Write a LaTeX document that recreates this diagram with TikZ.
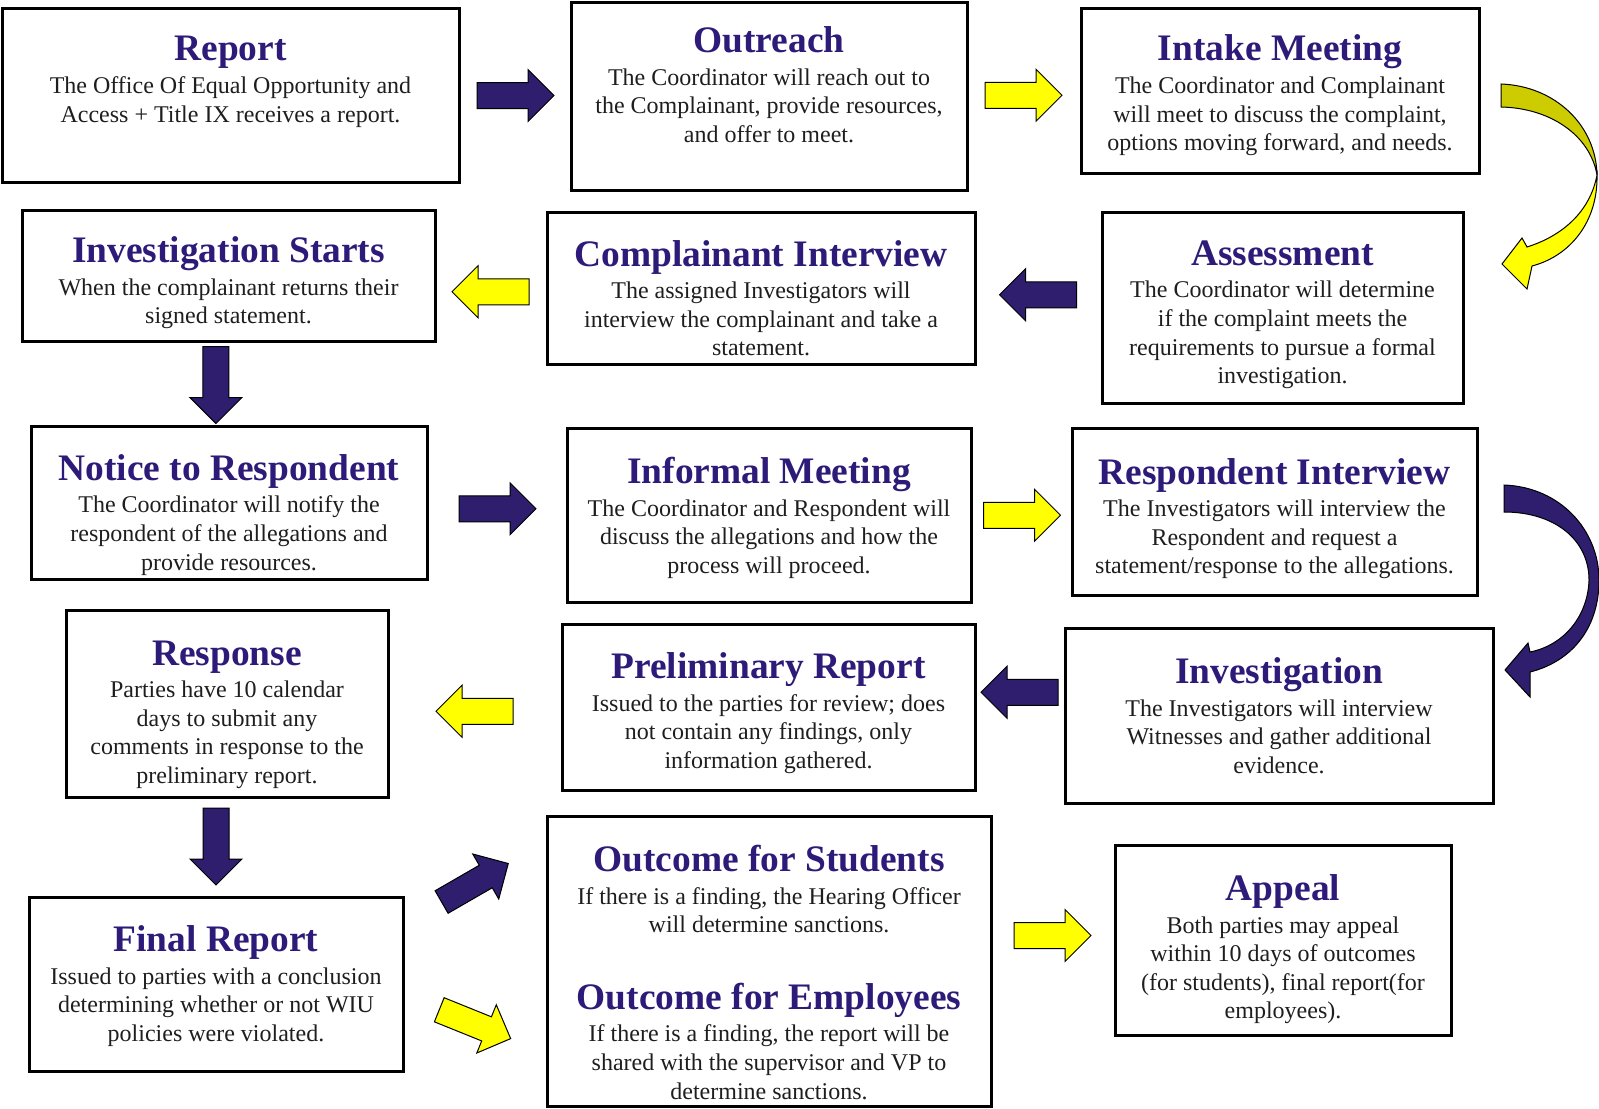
\documentclass[tikz,border=0pt]{standalone}
\usepackage{fontspec}
\setmainfont{Liberation Serif}
\usetikzlibrary{shapes.arrows,calc}
\definecolor{wiupurple}{HTML}{2E1A78}
\definecolor{arrowpurple}{HTML}{2F1D6E}
\definecolor{arrowyellow}{HTML}{FFFF00}
\definecolor{darkyellow}{HTML}{CCCC00}
\definecolor{bodytext}{HTML}{1E1E1E}
\newcommand{\steptitle}[1]{{\fontsize{18.7}{20}\selectfont\bfseries\color{wiupurple}#1}}

\begin{document}
\begin{tikzpicture}[
x=0.5pt, y=-0.5pt,
stepframe/.style = {draw, line width=1.5pt, inner sep=0pt},
steptext/.style = {align=center, inner sep=0pt, text=bodytext,
  font=\fontsize{12}{14.3}\selectfont},
boxsize/.style 2 args = {minimum width=#1pt, minimum height=#2pt},
blockarrow/.style = {single arrow, draw=black, line width=0.5pt, minimum height=38.5pt,
  minimum width=25.5pt, single arrow head extend=6.5pt, inner xsep=0pt, inner ysep=6.25pt},
purplearrow/.style = {blockarrow, fill=arrowpurple},
yellowarrow/.style = {blockarrow, fill=arrowyellow},
]
\useasboundingbox (0,0) rectangle (1599,1108);

% frames
\node[stepframe, boxsize={228.5}{87}] (report) at (230.5,95) {};
\node[stepframe, boxsize={198}{94}] (outreach) at (769,96) {};
\node[stepframe, boxsize={199}{82.5}] (intake) at (1280,90.5) {};
\node[stepframe, boxsize={206.5}{65.5}] (invstart) at (228.5,275.5) {};
\node[stepframe, boxsize={214}{76}] (complint) at (761,288) {};
\node[stepframe, boxsize={180.5}{95.5}] (assess) at (1282.5,307.5) {};
\node[stepframe, boxsize={198}{76.5}] (notice) at (229,502.5) {};
\node[stepframe, boxsize={202}{87}] (informal) at (769,515) {};
\node[stepframe, boxsize={202.5}{83.5}] (respint) at (1274.5,511.5) {};
\node[stepframe, boxsize={161}{93.5}] (response) at (227,703.5) {};
\node[stepframe, boxsize={206.5}{83}] (prelim) at (768.5,707) {};
\node[stepframe, boxsize={214}{87.5}] (investig) at (1279,715.5) {};
\node[stepframe, boxsize={187}{87}] (final) at (216,984) {};
\node[stepframe, boxsize={222}{145}] (outcome) at (769,961) {};
\node[stepframe, boxsize={168}{95}] (appeal) at (1283,940) {};

% texts
\node[steptext] (reporttxt) at ([yshift=6.6pt]report.center)
  {\steptitle{Report}\\[2pt]
   The Office Of Equal Opportunity and\\
   Access + Title IX receives a report.};
\node[steptext] (outreachtxt) at ([yshift=5.6pt]outreach.center)
  {\steptitle{Outreach}\\[2pt]
   The Coordinator will reach out to\\
   the Complainant, provide resources,\\
   and offer to meet.};
\node[steptext] (intaketxt) at ([yshift=-2.5pt]intake.center)
  {\steptitle{Intake Meeting}\\[2pt]
   The Coordinator and Complainant\\
   will meet to discuss the complaint,\\
   options moving forward, and needs.};
\node[steptext] (invstarttxt) at ([yshift=-3.6pt]invstart.center)
  {\steptitle{Investigation Starts}\\[2pt]
   When the complainant returns their\\
   signed statement.};
\node[steptext] (complinttxt) at ([yshift=-5.1pt]complint.center)
  {\steptitle{Complainant Interview}\\[2pt]
   The assigned Investigators will\\
   interview the complainant and take a\\
   statement.};
\node[steptext] (assesstxt) at ([yshift=-3.6pt]assess.center)
  {\steptitle{Assessment}\\[2pt]
   The Coordinator will determine\\
   if the complaint meets the\\
   requirements to pursue a formal\\
   investigation.};
\node[steptext] (noticetxt) at ([yshift=-6.1pt]notice.center)
  {\steptitle{Notice to Respondent}\\[2pt]
   The Coordinator will notify the\\
   respondent of the allegations and\\
   provide resources.};
\node[steptext] (informaltxt) at ([yshift=-1.5pt]informal.center)
  {\steptitle{Informal Meeting}\\[2pt]
   The Coordinator and Respondent will\\
   discuss the allegations and how the\\
   process will proceed.};
\node[steptext] (respinttxt) at ([yshift=-3.6pt]respint.center)
  {\steptitle{Respondent Interview}\\[2pt]
   The Investigators will interview the\\
   Respondent and request a\\
   statement/response to the allegations.};
\node[steptext] (responsetxt) at ([yshift=-5.6pt]response.center)
  {\steptitle{Response}\\[2pt]
   Parties have 10 calendar\\
   days to submit any\\
   comments in response to the\\
   preliminary report.};
\node[steptext] (prelimtxt) at ([yshift=-3.1pt]prelim.center)
  {\steptitle{Preliminary Report}\\[2pt]
   Issued to the parties for review; does\\
   not contain any findings, only\\
   information gathered.};
\node[steptext] (investigtxt) at (investig.center)
  {\steptitle{Investigation}\\[2pt]
   The Investigators will interview\\
   Witnesses and gather additional\\
   evidence.};
\node[steptext] (finaltxt) at ([yshift=-1pt]final.center)
  {\steptitle{Final Report}\\[2pt]
   Issued to parties with a conclusion\\
   determining whether or not WIU\\
   policies were violated.};
\node[steptext] (outcometxt) at ([yshift=-5.6pt]outcome.center)
  {\steptitle{Outcome for Students}\\[2pt]
   If there is a finding, the Hearing Officer\\
   will determine sanctions.\\[24pt]
   \steptitle{Outcome for Employees}\\[2pt]
   If there is a finding, the report will be\\
   shared with the supervisor and VP to\\
   determine sanctions.};
\node[steptext] (appealtxt) at ([yshift=-4.6pt]appeal.center)
  {\steptitle{Appeal}\\[2pt]
   Both parties may appeal\\
   within 10 days of outcomes\\
   (for students), final report(for\\
   employees).};

% block arrows (shifts are in the arrow's own frame)
\node[purplearrow, xshift=-3pt] (arr1) at ($(report.east)!.5!(outreach.west)$) {};
\node[yellowarrow, xshift=-3.5pt, yshift=-1pt] (arr2) at ($(outreach.east)!.5!(intake.west)$) {};
\node[purplearrow, rotate=180, xshift=-3pt, yshift=-1.5pt] (arr4) at ($(complint.east)!.5!(assess.west)$) {};
\node[yellowarrow, rotate=180, xshift=-3pt, yshift=5pt] (arr5) at ($(invstart.east)!.5!(complint.west)$) {};
\node[purplearrow, rotate=-90, xshift=-2.5pt, yshift=-6.4pt] (arr6) at ($(invstart.south)!.5!(notice.north)$) {};
\node[purplearrow, xshift=-3pt] (arr7) at ($(notice.east)!.5!(informal.west)$) {};
\node[yellowarrow, xshift=-3pt, yshift=-1pt] (arr8) at ($(informal.east)!.5!(respint.west)$) {};
\node[purplearrow, rotate=180, xshift=-3pt, yshift=-9.5pt] (arr10) at ($(prelim.east)!.5!(investig.west)$) {};
\node[yellowarrow, rotate=180, xshift=-3pt, yshift=3pt] (arr11) at ($(response.east)!.5!(prelim.west)$) {};
\node[purplearrow, rotate=-90, xshift=-3.5pt, yshift=-2.75pt] (arr12) at ($(response.south)!.5!(final.north)$) {};
\node[purplearrow, rotate=30, xshift=-3pt] (arr13) at (474.5,883) {};
\node[yellowarrow, rotate=-22, xshift=-3pt] (arr14) at (474.5,1024) {};
\node[yellowarrow, xshift=-3.5pt, yshift=7.5pt] (arr15) at ($(outcome.east)!.5!(appeal.west)$) {};

% curved arrows on the right
\filldraw[fill=darkyellow, draw=black, line width=0.5pt]
  (1501,84) .. controls (1555,86) and (1596,125) .. (1597,175)
  .. controls (1590,135) and (1550,108) .. (1501,107) -- cycle;
\filldraw[fill=arrowyellow, draw=black, line width=0.5pt]
  (1597,175) .. controls (1598,222) and (1570,256) .. (1532,266)
  -- (1527,289) -- (1502,264) -- (1522,238) -- (1527,247)
  .. controls (1562,236) and (1590,212) .. (1597,175) -- cycle;
\filldraw[fill=arrowpurple, draw=black, line width=0.5pt]
  (1504,485) .. controls (1560,487) and (1599,530) .. (1599,580)
  .. controls (1599,630) and (1570,662) .. (1530,672)
  -- (1530,697) -- (1505,670) -- (1528,643) -- (1530,652)
  .. controls (1565,645) and (1588,615) .. (1589,580)
  .. controls (1589,540) and (1555,512) .. (1504,512) -- cycle;
\end{tikzpicture}
\end{document}
